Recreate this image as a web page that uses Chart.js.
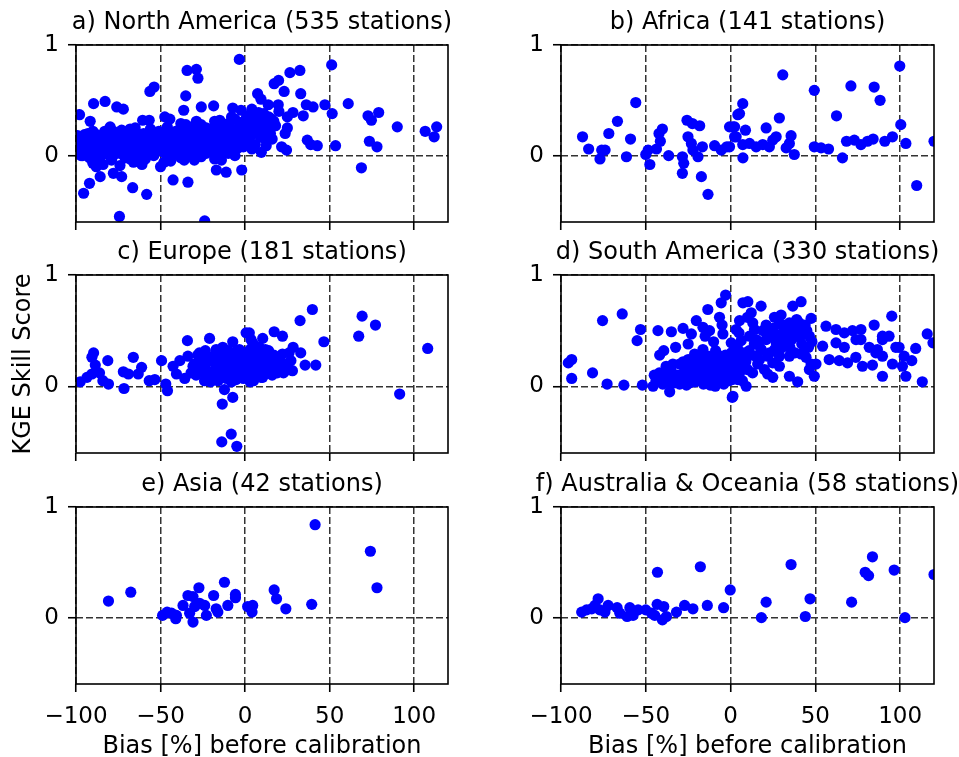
<!DOCTYPE html>
<html>
<head>
<meta charset="utf-8">
<script src="https://cdn.jsdelivr.net/npm/chart.js@4.4.0/dist/chart.umd.min.js"></script>
<style>
  html, body { margin: 0; padding: 0; background: #fff; overflow: hidden; }
  #fig { position: relative; width: 959px; height: 757px; overflow: hidden; }
  #fig canvas { position: absolute; }
</style>
</head>
<body>
<div id="fig">
  <canvas id="pa" width="524" height="245" style="left:0px;top:0px"></canvas>
  <canvas id="pb" width="525" height="245" style="left:485px;top:0px"></canvas>
  <canvas id="pc" width="524" height="246" style="left:0px;top:230px"></canvas>
  <canvas id="pd" width="525" height="246" style="left:485px;top:230px"></canvas>
  <canvas id="pe" width="524" height="300" style="left:0px;top:462px"></canvas>
  <canvas id="pf" width="525" height="300" style="left:485px;top:462px"></canvas>
</div>
<script>
// axis ticks
const xTicks = [-100, -50, 0, 50, 100];
const yTicks = [0, 1];

// [bias %, KGE skill score] per station
const northAmerica = [
  [-3.4,0.87],[-34.3,0.77],[-28.8,0.78],[-27.9,0.70],[-56.3,0.58],[-53.8,0.62],[-35.1,0.54],[-89.6,0.47],
  [-82.8,0.49],[-75.9,0.44],[-72,0.42],[-97.9,0.37],[-91.6,0.31],[-60.6,0.32],[-56.7,0.32],[-36.3,0.41],
  [-25.9,0.44],[-18.6,0.45],[-47.5,0.35],[-44.5,0.33],[-28.8,0.31],[-79.8,0.26],[-68,0.24],[-7.3,0.43],[-2.4,0.41],
  [-95.5,-0.34],[-92,-0.25],[-85.7,-0.19],[-74.3,-0.55],[-66.5,-0.29],[-58.2,-0.35],[-42.6,-0.22],[-33.8,-0.24],
  [-23.9,-0.59],[-17,-0.13],[-11.2,-0.15],[-2,-0.13],[-77.9,-0.16],[-73,-0.19],[-90,-0.07],[-88,-0.1],
  [51.2,0.82],[26.5,0.75],[32.4,0.77],[17.2,0.65],[19.8,0.68],[7.4,0.56],[9.4,0.51],[23.1,0.58],[32.9,0.56],
  [47.2,0.46],[61,0.47],[51.5,0.38],[36.2,0.46],[40.2,0.44],[28.3,0.39],[25,0.35],[34.4,0.36],[13.7,0.46],
  [19.6,0.46],[15.7,0.33],[72.7,0.36],[74.7,0.32],[79,0.39],[90,0.26],[106.5,0.22],[113.3,0.26],[111.8,0.17],
  [23.7,0.2],[36.8,0.14],[38.8,0.1],[42.7,0.09],[53.5,0.09],[73.5,0.13],[78,0.08],[68.8,-0.11],[21.6,0.08],
  [24.5,0.05],[9.6,0.03],[12.5,0.09],
  [-99,0.08],[-98,0.14],[-97,0.03],[-96,0.11],[-95,0.06],[-94,0.17],[-93,0.01],[-92,0.09],[-91,0.13],[-90,0.04],
  [-89,0.2],[-88,0.07],[-88,-0.05],[-87,0.12],[-86,0.02],[-85,0.16],[-84,-0.08],[-84,0.06],[-83,0.22],[-82,0.1],
  [-81,0.01],[-80,0.14],[-79,-0.04],[-78,0.08],[-77,0.18],[-76,0.03],[-75,0.12],[-74,-0.09],[-73,0.06],[-72,0.15],
  [-71,0.21],[-70,0.0],[-69,0.1],[-68,0.04],[-67,0.17],[-66,-0.06],[-65,0.08],[-64,0.13],[-63,0.02],[-62,0.19],
  [-61,0.06],[-60,0.11],[-59,-0.03],[-58,0.15],[-57,0.05],[-56,0.24],[-55,0.09],[-54,0.0],[-53,0.13],[-52,0.18],
  [-51,0.05],[-50,-0.1],[-50,0.1],[-49,0.2],[-48,0.03],[-47,0.14],[-46,0.26],[-45,0.08],[-44,-0.05],[-44,0.17],
  [-43,0.11],[-42,0.02],[-41,0.22],[-40,0.07],[-39,0.15],[-38,0.29],[-38,-0.02],[-37,0.1],[-36,0.19],[-35,0.04],
  [-34,0.13],[-33,0.24],[-32,0.08],[-31,0.17],[-30,-0.04],[-30,0.12],[-29,0.21],[-28,0.05],[-27,0.15],[-26,0.28],
  [-25,0.09],[-24,0.19],[-23,0.02],[-22,0.13],[-21,0.24],[-20,0.07],[-19,0.16],[-18,0.31],[-17,0.1],[-16,0.2],
  [-15,0.0],[-14,0.14],[-13,0.25],[-12,0.05],[-11,0.17],[-10,0.29],[-9,0.11],[-8,0.21],[-7,0.14],[-6,0.33],
  [-5,0.19],[-4,0.25],[-3,0.12],[-2,0.3],[-1,0.18],[0,0.24],[1,0.36],[2,0.14],[3,0.28],[4,0.2],[5,0.33],[6,0.1],
  [7,0.25],[8,0.39],[9,0.17],[10,0.29],[12,0.22],[14,0.35],[16,0.15],[18,0.27],
  [-97,0.0],[-95,0.19],[-92,-0.02],[-90,0.15],[-86,0.09],[-82,0.03],[-80,0.24],[-78,0.0],[-76,0.1],[-73,0.23],
  [-70,0.14],[-68,-0.03],[-66,0.2],[-63,0.09],[-61,-0.08],[-58,0.02],[-56,0.14],[-53,0.06],[-51,0.22],[-48,0.11],
  [-46,-0.02],[-43,0.05],[-41,0.14],[-39,0.0],[-36,0.09],[-34,0.21],[-32,0.0],[-29,0.1],[-27,0.23],[-25,0.02],
  [-22,0.2],[-20,0.12],[-18,-0.03],[-16,0.08],[-14,0.21],[-12,0.16],[-10,0.02],[-8,0.08],[-6,0.2],[-4,0.07],
  [-2,0.16],[0,0.1],[2,0.22],[4,0.06],[6,0.3],[8,0.2],
  [-99,0.18],[-98,0.02],[-96,0.0],[-94,0.09],[-93,0.2],[-91,0.05],[-89,0.1],[-87,0.03],[-86,0.18],[-85,0.0],
  [-83,0.12],[-81,0.19],[-79,0.11],[-77,0.05],[-75,0.2],[-74,0.02],[-72,0.08],[-71,-0.02],[-69,0.18],[-67,0.07],
  [-65,0.16],[-64,0.03],[-62,0.11],[-60,0.2],[-59,0.07],[-57,0.19],[-55,0.03],[-54,0.16],[-52,0.09],[-49,0.06],
  [-47,0.22],[-45,0.15],[-43,0.19],[-42,0.09],[-40,0.16],[-39,0.23],[-37,0.03],[-35,0.12],[-33,0.17],[-31,0.06],
  [-30,0.27],[-28,0.18],[-26,0.09],[-24,0.04],[-23,0.25],[-21,0.1],[-19,0.03],[-17,0.24],[-15,0.18],[-13,0.09],
  [-11,0.23],[-9,0.26],[-7,0.06],[-5,0.12],[-3,0.29],[-1,0.08],[1,0.27],[3,0.17],[5,0.24],[7,0.34],[9,0.23],
  [11,0.38],[13,0.28],[15,0.2],[17,0.31],[11,0.16],[-62,-0.04],[-48,-0.06],[-36,-0.04],[-26,-0.01],[-14,-0.04],
  [-6,0.0],[-78,0.22],[-90,0.22],[-65,0.25],[-35,0.28],[-15,0.32],[-8,0.35],[0,0.32],[4,0.42],[20,0.4],[25,0.25]
];

const africa = [
  [-87.3,0.17],[-83.7,0.06],[-77,-0.03],[-76,0.05],[-74,0.05],[-71.8,0.2],[-66.7,0.31],[-61.4,-0.01],[-59,0.15],
  [-55.9,0.48],[-50,0.01],[-48.6,0.05],[-47.6,-0.08],[-43.7,0.06],[-42.2,0.2],[-40.2,0.24],[-41.4,0.13],
  [-36.5,0.0],[-28.4,-0.01],[-27.6,-0.07],[-28.4,-0.16],[-25.7,0.32],[-22.5,0.29],[-18.2,0.27],[-25.1,0.17],
  [-23.1,0.11],[-22.2,0.05],[-19.2,-0.01],[-17.2,-0.19],[-16.6,0.08],[-13.3,-0.35],[-9.4,0.09],[-5.5,0.05],
  [-2.2,0.08],[1.4,0.26],[4.3,0.37],[2.4,0.17],[-0.6,0.26],[2.4,0.26],[5.3,0.38],[7.2,0.47],[-0.6,0.08],
  [3.3,0.17],[8.8,0.23],[7.3,-0.02],[7.2,0.1],[11.2,0.11],[15.1,0.08],[19,0.1],[21,0.25],[22.9,0.08],[24.9,0.14],
  [26.9,0.17],[30.8,0.73],[28.8,0.34],[32.8,0.07],[35.7,0.18],[34.7,0.11],[37.6,0.01],[49.4,0.59],[49.4,0.08],
  [53.4,0.07],[57.8,0.06],[62.5,0.36],[66,-0.02],[68.4,0.13],[73,0.14],[76.9,0.1],[80.8,0.13],[84.1,0.15],
  [71,0.63],[84.7,0.62],[88.2,0.5],[91,0.13],[95.5,0.17],[99.8,0.81],[100.4,0.28],[103.4,0.11],[109.8,-0.27],
  [120,0.13]
];

const europe = [
  [-97.5,0.04],[-93.5,0.08],[-90.6,0.11],[-89.6,0.30],[-90.6,0.26],[-88.6,0.19],[-86.1,0.12],[-84.1,0.05],
  [-80.8,0.02],[-81.2,0.23],[-72,0.13],[-69,0.11],[-71.6,-0.02],[-66.1,0.26],[-63.2,0.11],[-61.2,0.17],
  [-56.7,0.05],[-53.4,0.06],[-49.4,0.23],[-46.9,0.02],[-45.9,-0.04],[-42.6,0.18],[-40.6,0.11],[-38.6,0.23],
  [-35.7,0.07],[-34.1,0.41],[-33.8,0.27],[-30.8,0.18],[-26.9,0.21],[-23.9,0.12],[-21,0.43],[-23.5,0.32],
  [-20,0.26],[-20.4,0.04],[-17.1,0.33],[-13.2,0.35],[-7.3,0.40],[-15.1,0.24],[-11.2,0.18],[-9.2,0.12],
  [-5.3,0.24],[-2.4,0.15],[0.6,0.30],[-15.1,0.09],[-5.3,0.06],[0.6,0.48],[3.5,0.42],[6.5,0.33],[6.5,0.18],
  [7.4,0.09],[-11.2,0.27],[-3.4,0.33],[-12.2,-0.03],[-7.3,-0.10],[-13.5,-0.16],[-13.8,-0.50],[-8.2,-0.43],
  [-4.9,-0.54],[39.8,0.69],[32.5,0.59],[46.6,0.40],[17.2,0.49],[22.1,0.45],[10.4,0.43],[28.4,0.35],[13.9,0.32],
  [32.9,0.30],[22.1,0.29],[20.2,0.24],[27.1,0.23],[35.5,0.19],[41.8,0.19],[22.7,0.12],[25.7,0.15],[2.5,0.48],
  [4.5,0.39],[6.5,0.30],[3.5,0.21],[7.4,0.18],[5.5,0.12],[9.4,0.08],[11.4,0.24],[13.3,0.15],[8.4,0.35],
  [15.3,0.26],[10.4,0.08],[69.2,0.63],[77.1,0.55],[67.2,0.45],[91.4,-0.07],[108,0.34],
  [-30,0.2],[-28,0.14],[-26,0.25],[-24,0.18],[-22,0.09],[-19,0.22],[-17,0.15],[-16,0.05],[-14,0.3],[-12,0.1],
  [-10,0.2],[-9,0.27],[-8,0.04],[-6,0.15],[-5,0.32],[-4,0.1],[-3,0.2],[-1,0.07],[0,0.15],[1,0.23],[2,0.1],
  [4,0.27],[5,0.05],[6,0.2],[8,0.14],[9,0.24],[11,0.11],[12,0.33],[14,0.19],[16,0.1],[18,0.21],[20,0.16],
  [24,0.2],[26,0.3],[28,0.14],
  [-29,0.1],[-27,0.3],[-25,0.16],[-23,0.24],[-21,0.13],[-18,0.28],[-16,0.19],[-14,0.13],[-12,0.24],[-11,0.07],
  [-10,0.32],[-8,0.2],[-7,0.29],[-6,0.09],[-4,0.22],[-2,0.27],[-1,0.18],[1,0.12],[3,0.04],[3,0.33],[5,0.16],
  [7,0.26],[9,0.17],[10,0.3],[13,0.22],[15,0.15],[17,0.28],[19,0.12],[-18,0.07],[-24,0.05],[-28,0.28],[-32,0.12]
];

const southAmerica = [
  [-95.7,0.21],[-93.7,0.24],[-93.7,0.07],[-81.4,0.12],[-75.5,0.59],[-72.8,0.02],[-63.9,0.65],[-62.9,0.01],
  [-55.1,0.41],[-53.1,0.51],[-52,0.01],[-45.7,0.0],[-42.8,0.50],[-34.9,0.49],[-41.8,0.28],[-39.4,0.32],
  [-35.9,-0.05],[-32.4,0.35],[-28,0.52],[-20.2,0.59],[-23.1,0.47],[-21.2,0.29],[-16.3,0.33],[-13.4,0.69],
  [-5.5,0.75],[-2.9,0.82],[-16.3,0.53],[-12.4,0.50],[-6.5,0.62],[-4.5,0.47],[-8.8,0.32],[1,-0.10],[0.4,0.30],
  [7.3,0.75],[10.2,0.76],[18,0.72],[36.7,0.72],[41.6,0.76],[12.2,0.66],[13.1,0.57],[14.1,0.51],[11.2,0.45],
  [15.1,0.42],[5.3,0.59],[3.3,0.51],[0.4,0.39],[6.3,0.41],[25.9,0.62],[29.8,0.64],[28.8,0.56],[24.9,0.50],
  [32.8,0.50],[34.7,0.57],[38.6,0.54],[40.6,0.57],[43.5,0.48],[47.5,0.61],[21,0.42],[26.9,0.39],[31.8,0.36],
  [35.7,0.42],[46.5,0.45],[18,0.33],[21.9,0.27],[28.8,0.27],[34.7,0.27],[17.1,0.24],[24.9,0.21],[28.8,0.18],
  [21.9,0.11],[24.9,0.08],[34.7,0.09],[39.6,0.04],[3.3,0.27],[1.4,0.18],[5.3,0.12],[9.2,0.0],[1.4,-0.09],
  [-0.6,0.24],[4.3,0.06],[41.6,0.29],[44.5,0.26],[46.5,0.15],[49.4,0.09],[50.4,0.2],[47.5,0.2],
  [56.3,0.54],[62.2,0.51],[67.1,0.48],[71.9,0.50],[76.9,0.51],[84.7,0.55],[89.6,0.45],[95.1,0.63],
  [54.3,0.36],[62.2,0.39],[67.1,0.35],[74,0.42],[76.9,0.42],[81.8,0.35],[86.6,0.33],[89.6,0.42],[93.5,0.45],
  [97.5,0.35],[58.2,0.24],[64.1,0.23],[69,0.21],[73.9,0.26],[77.8,0.18],[83.7,0.19],[85.7,0.30],[89.6,0.27],
  [95.5,0.2],[89.6,0.09],[99.4,0.35],[102.4,0.27],[101.4,0.18],[103.4,0.09],[106.9,0.23],[109.2,0.34],
  [113.1,0.04],[116,0.47],[119.4,0.39],
  [-44,0.05],[-42,0.12],[-40,0.02],[-38,0.18],[-37,0.08],[-35,0.14],[-33,0.03],[-31,0.1],[-30,0.2],[-29,0.06],
  [-27,0.15],[-26,0.01],[-25,0.24],[-24,0.09],[-22,0.12],[-21,0.04],[-20,0.18],[-19,0.08],[-18,0.27],[-17,0.13],
  [-16,0.02],[-15,0.1],[-14,0.2],[-13,0.06],[-12,0.15],[-11,0.25],[-10,0.03],[-9,0.11],[-8,0.19],[-7,0.07],
  [-6,0.14],[-5,0.22],[-4,0.02],[-3,0.09],[-2,0.17],[-1,0.05],[0,0.13],[1,0.2],[2,0.08],[3,0.15],[-43,0.09],
  [-36,0.03],[-28,0.11],[-23,0.16],[-17,0.22],[-9,0.0],[-3,0.28],[4,0.35],[6,0.22],[8,0.3],[10,0.15],[12,0.28],
  [14,0.38],[16,0.2],[18,0.33],[20,0.15],[22,0.5],[24,0.45],[26,0.33],[28,0.4],[30,0.47],[32,0.36],[34,0.52],
  [36,0.42],[38,0.3],[40,0.48],[42,0.38],[44,0.55],[46,0.35],
  [-45,0.1],[-41,0.07],[-39,0.13],[-36,0.1],[-34,0.2],[-32,0.08],[-30,0.02],[-28,0.22],[-26,0.13],[-24,0.03],
  [-22,0.22],[-20,0.1],[-19,0.25],[-17,0.05],[-15,0.17],[-13,0.27],[-12,0.01],[-10,0.15],[-8,0.08],[-6,0.27],
  [-5,0.04],[-4,0.16],[-2,0.1],[-1,0.25],[1,0.06],[2,0.26],[5,0.18],[7,0.05],[9,0.22],[11,0.32],[13,0.12],
  [15,0.27],[17,0.4],[19,0.5],[21,0.55],[23,0.3],[25,0.52],[27,0.45],[29,0.33],[31,0.55],[33,0.44],[35,0.35],
  [37,0.5],[39,0.6],[41,0.44],[43,0.3],[45,0.5],[48,0.4],[-10,0.4],[-25,0.38],[-15,0.45],[-5,0.55],[5,0.48],
  [10,0.62]
];

const asia = [
  [-80.8,0.15],[-67.6,0.23],[-48.8,0.02],[-46.1,0.05],[-43.5,0.04],[-40.6,0.02],[-41,-0.01],[-36.7,0.11],
  [-33.8,0.20],[-30.8,0.19],[-27.3,0.27],[-32.8,0.04],[-30.8,-0.04],[-29.8,0.10],[-26.9,0.13],[-23.9,0.11],
  [-22.9,0.02],[-18.6,0.20],[-17.1,0.08],[-12.2,0.32],[-10.2,0.11],[-5.7,0.21],[-5.7,0.18],[-16.1,0.05],
  [1.5,0.10],[4.5,0.11],[4.1,0.05],[17.2,0.25],[18.6,0.17],[24.1,0.08],[39.4,0.12],[41.4,0.84],[74.1,0.60],
  [78,0.27]
];

const oceania = [
  [-87.8,0.05],[-84.9,0.07],[-81.9,0.08],[-80,0.11],[-78.1,0.17],[-77.1,0.07],[-74.1,0.05],[-72.2,0.11],
  [-66.9,0.09],[-65.3,0.04],[-61,0.01],[-59.4,0.09],[-57.5,0.02],[-54.5,0.07],[-50,0.07],[-46.6,0.04],
  [-44.7,0.02],[-43.1,0.41],[-43.3,0.12],[-39.4,0.10],[-40.2,-0.02],[-37.8,0.01],[-31.9,0.05],[-27.1,0.11],
  [-22.2,0.08],[-17.8,0.46],[-13.7,0.11],[-4.1,0.09],[-0.2,0.25],[18.2,0.0],[21,0.14],[35.7,0.48],[44.1,0.01],
  [46.9,0.17],[71.4,0.14],[79.4,0.41],[81.4,0.38],[83.7,0.55],[96.5,0.43],[102.9,0.0],[120,0.39]
];

const FONT = 'DejaVu Sans';

const fmt = v => (v < 0 ? '\u2212' + Math.abs(v) : String(v));

// matplotlib style box around the plot area
const framePlugin = {
  id: 'frame',
  afterDraw(chart) {
    const a = chart.chartArea, ctx = chart.ctx;
    ctx.save();
    ctx.strokeStyle = '#000';
    ctx.lineWidth = 1.6;
    ctx.strokeRect(a.left, a.top, a.right - a.left, a.bottom - a.top);
    ctx.restore();
  }
};

function makePanel(id, title, pts, opt) {
  const bottomRow = !!opt.bottom;
  const gridOpts = { color: '#333', lineWidth: 1.5, tickLength: 8, tickColor: '#000', tickWidth: 1.6, tickBorderDash: [] };
  new Chart(document.getElementById(id), {
    type: 'scatter',
    data: {
      datasets: [{
        data: pts.map(p => ({ x: p[0], y: p[1] })),
        backgroundColor: '#0000ff',
        borderWidth: 0,
        pointRadius: 5.6,
        pointHoverRadius: 5.6
      }]
    },
    options: {
      responsive: false,
      animation: false,
      layout: { padding: { left: 0, right: 0, top: 0, bottom: bottomRow ? 0.5 : 0 } },
      plugins: {
        legend: { display: false },
        tooltip: { enabled: false },
        title: {
          display: true,
          text: title,
          color: '#000',
          font: { family: FONT, size: 24, weight: 'normal', lineHeight: 1.2 },
          padding: { top: 8, bottom: 8.2 }
        }
      },
      scales: {
        x: {
          type: 'linear',
          min: -100,
          max: 120,
          afterBuildTicks: s => { s.ticks = xTicks.map(v => ({ value: v })); },
          // 23px keeps room for the half-height of the y tick labels
          afterFit: s => { s.height = bottomRow ? 77.5 : 23; },
          grid: gridOpts,
          border: { display: false, dash: [7, 3] },
          ticks: {
            display: bottomRow, color: '#000', padding: 11, maxRotation: 0, autoSkip: false,
            font: { family: FONT, size: 23 }, callback: v => fmt(v)
          },
          title: {
            display: bottomRow, text: 'Bias [%] before calibration', color: '#000',
            font: { family: FONT, size: 24 }, padding: { top: 0, bottom: 0 }
          }
        },
        y: {
          type: 'linear',
          min: -0.6,
          max: 1,
          afterBuildTicks: s => { s.ticks = yTicks.map(v => ({ value: v })); },
          afterFit: s => { s.width = 76; },
          grid: gridOpts,
          border: { display: false, dash: [7, 3] },
          ticks: { color: '#000', padding: 9, font: { family: FONT, size: 23 }, callback: v => fmt(v) },
          title: {
            display: !!opt.ylabel, text: 'KGE Skill Score', color: '#000',
            font: { family: FONT, size: 24 }, padding: { top: 9, bottom: 0 }
          }
        },
        // empty right-hand axis, keeps the plot centred under its title
        pad: {
          type: 'linear',
          position: 'right',
          grid: { display: false, drawTicks: false },
          border: { display: false },
          ticks: { display: false },
          afterFit: s => { s.width = 76; }
        }
      }
    },
    plugins: [framePlugin]
  });
}

makePanel('pa', 'a) North America (535 stations)', northAmerica, {});
makePanel('pb', 'b) Africa (141 stations)', africa, {});
makePanel('pc', 'c) Europe (181 stations)', europe, { ylabel: true });
makePanel('pd', 'd) South America (330 stations)', southAmerica, {});
makePanel('pe', 'e) Asia (42 stations)', asia, { bottom: true });
makePanel('pf', 'f) Australia & Oceania (58 stations)', oceania, { bottom: true });
</script>
</body>
</html>
